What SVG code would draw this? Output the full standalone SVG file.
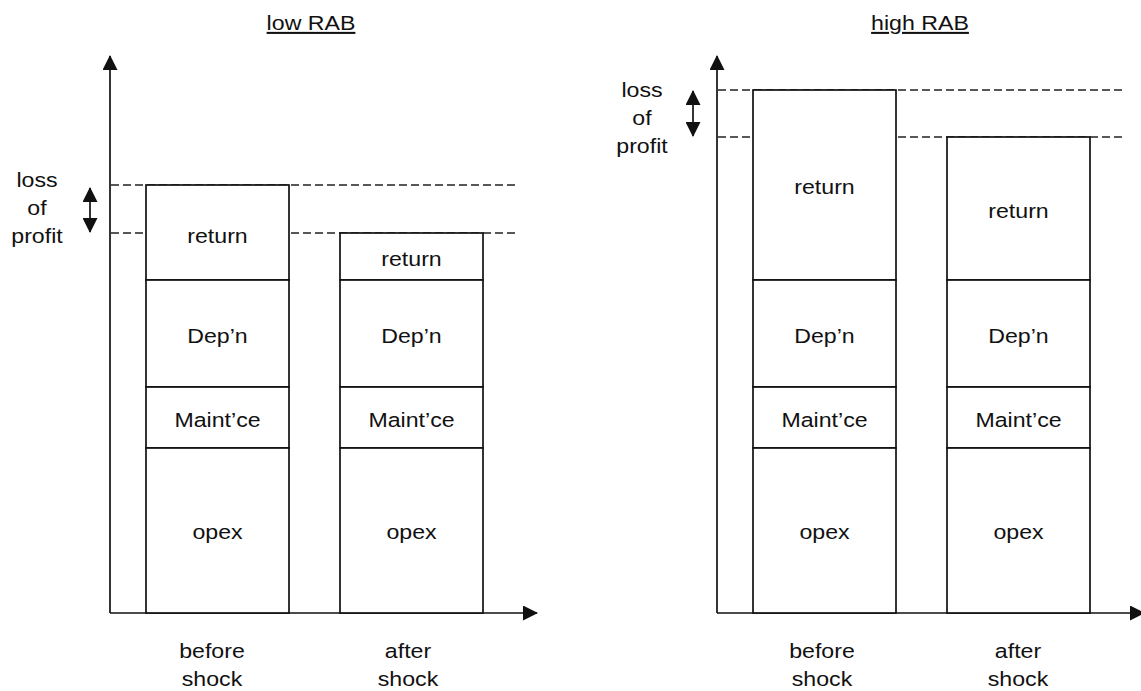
<svg xmlns="http://www.w3.org/2000/svg" width="1141" height="691" viewBox="0 0 1141 691">
  <style>
    .t{font-family:"Liberation Sans",Arial,Helvetica,sans-serif;font-size:20.5px;fill:#111;text-anchor:middle}
    .box{fill:#fff;stroke:#111;stroke-width:1.7}
    .axis{stroke:#111;stroke-width:1.7;fill:none}
    .dash{stroke:#222;stroke-width:1.5;stroke-dasharray:8 4;fill:none}
  </style>
  <defs>
    <marker id="head" viewBox="0 0 15 15" refX="14" refY="7.5" markerWidth="15" markerHeight="15" markerUnits="userSpaceOnUse" orient="auto-start-reverse">
      <path d="M0,0 L15,7.5 L0,15 z" fill="#111"/>
    </marker>
  </defs>
  <rect width="1141" height="691" fill="#fff"/>

  <!-- connectors: axes, reference levels, loss-of-profit spans -->
  <g id="connectors">
    <line class="dash" x1="111" y1="185" x2="517" y2="185"/>
    <line class="dash" x1="111" y1="233" x2="517" y2="233"/>
    <line class="dash" x1="718" y1="90" x2="1122" y2="90"/>
    <line class="dash" x1="718" y1="137" x2="1122" y2="137"/>

    <line class="axis" x1="110" y1="613" x2="110" y2="56" marker-end="url(#head)"/>
    <line class="axis" x1="110" y1="613" x2="537" y2="613" marker-end="url(#head)"/>
    <line class="axis" x1="717" y1="613" x2="717" y2="56" marker-end="url(#head)"/>
    <line class="axis" x1="717" y1="613" x2="1144" y2="613" marker-end="url(#head)"/>

    <line class="axis" x1="90" y1="188" x2="90" y2="232" marker-start="url(#head)" marker-end="url(#head)"/>
    <line class="axis" x1="693" y1="91" x2="693" y2="136" marker-start="url(#head)" marker-end="url(#head)"/>
  </g>

  <!-- titles -->
  <g id="title-low">
    <text class="t" text-decoration="underline" transform="translate(311,30) scale(1.13,1)">low RAB</text>
  </g>
  <g id="title-high">
    <text class="t" text-decoration="underline" transform="translate(920,30) scale(1.13,1)">high RAB</text>
  </g>

  <!-- low RAB, before shock -->
  <g id="low-before">
    <rect class="box" x="146" y="185" width="143" height="95"/>
    <rect class="box" x="146" y="280" width="143" height="107"/>
    <rect class="box" x="146" y="387" width="143" height="61"/>
    <rect class="box" x="146" y="448" width="143" height="165"/>
    <text class="t" transform="translate(217.5,243) scale(1.13,1)">return</text>
    <text class="t" transform="translate(217.5,343) scale(1.13,1)">Dep’n</text>
    <text class="t" transform="translate(217.5,427) scale(1.13,1)">Maint’ce</text>
    <text class="t" transform="translate(217.5,539) scale(1.13,1)">opex</text>
  </g>

  <!-- low RAB, after shock -->
  <g id="low-after">
    <rect class="box" x="340" y="233" width="143" height="47"/>
    <rect class="box" x="340" y="280" width="143" height="107"/>
    <rect class="box" x="340" y="387" width="143" height="61"/>
    <rect class="box" x="340" y="448" width="143" height="165"/>
    <text class="t" transform="translate(411.5,266) scale(1.13,1)">return</text>
    <text class="t" transform="translate(411.5,343) scale(1.13,1)">Dep’n</text>
    <text class="t" transform="translate(411.5,427) scale(1.13,1)">Maint’ce</text>
    <text class="t" transform="translate(411.5,539) scale(1.13,1)">opex</text>
  </g>

  <!-- high RAB, before shock -->
  <g id="high-before">
    <rect class="box" x="753" y="90" width="143" height="190"/>
    <rect class="box" x="753" y="280" width="143" height="107"/>
    <rect class="box" x="753" y="387" width="143" height="61"/>
    <rect class="box" x="753" y="448" width="143" height="165"/>
    <text class="t" transform="translate(824.5,194) scale(1.13,1)">return</text>
    <text class="t" transform="translate(824.5,343) scale(1.13,1)">Dep’n</text>
    <text class="t" transform="translate(824.5,427) scale(1.13,1)">Maint’ce</text>
    <text class="t" transform="translate(824.5,539) scale(1.13,1)">opex</text>
  </g>

  <!-- high RAB, after shock -->
  <g id="high-after">
    <rect class="box" x="947" y="137" width="143" height="143"/>
    <rect class="box" x="947" y="280" width="143" height="107"/>
    <rect class="box" x="947" y="387" width="143" height="61"/>
    <rect class="box" x="947" y="448" width="143" height="165"/>
    <text class="t" transform="translate(1018.5,218) scale(1.13,1)">return</text>
    <text class="t" transform="translate(1018.5,343) scale(1.13,1)">Dep’n</text>
    <text class="t" transform="translate(1018.5,427) scale(1.13,1)">Maint’ce</text>
    <text class="t" transform="translate(1018.5,539) scale(1.13,1)">opex</text>
  </g>

  <!-- loss of profit labels -->
  <g id="loss-low">
    <text class="t" transform="translate(37,187) scale(1.13,1)">loss</text>
    <text class="t" transform="translate(37,215) scale(1.13,1)">of</text>
    <text class="t" transform="translate(37,243) scale(1.13,1)">profit</text>
  </g>
  <g id="loss-high">
    <text class="t" transform="translate(642,97) scale(1.13,1)">loss</text>
    <text class="t" transform="translate(642,125) scale(1.13,1)">of</text>
    <text class="t" transform="translate(642,153) scale(1.13,1)">profit</text>
  </g>

  <!-- period labels -->
  <g id="period-low">
    <text class="t" transform="translate(212,658) scale(1.13,1)">before</text>
    <text class="t" transform="translate(212,686) scale(1.13,1)">shock</text>
    <text class="t" transform="translate(408,658) scale(1.13,1)">after</text>
    <text class="t" transform="translate(408,686) scale(1.13,1)">shock</text>
  </g>
  <g id="period-high">
    <text class="t" transform="translate(822,658) scale(1.13,1)">before</text>
    <text class="t" transform="translate(822,686) scale(1.13,1)">shock</text>
    <text class="t" transform="translate(1018,658) scale(1.13,1)">after</text>
    <text class="t" transform="translate(1018,686) scale(1.13,1)">shock</text>
  </g>
</svg>
